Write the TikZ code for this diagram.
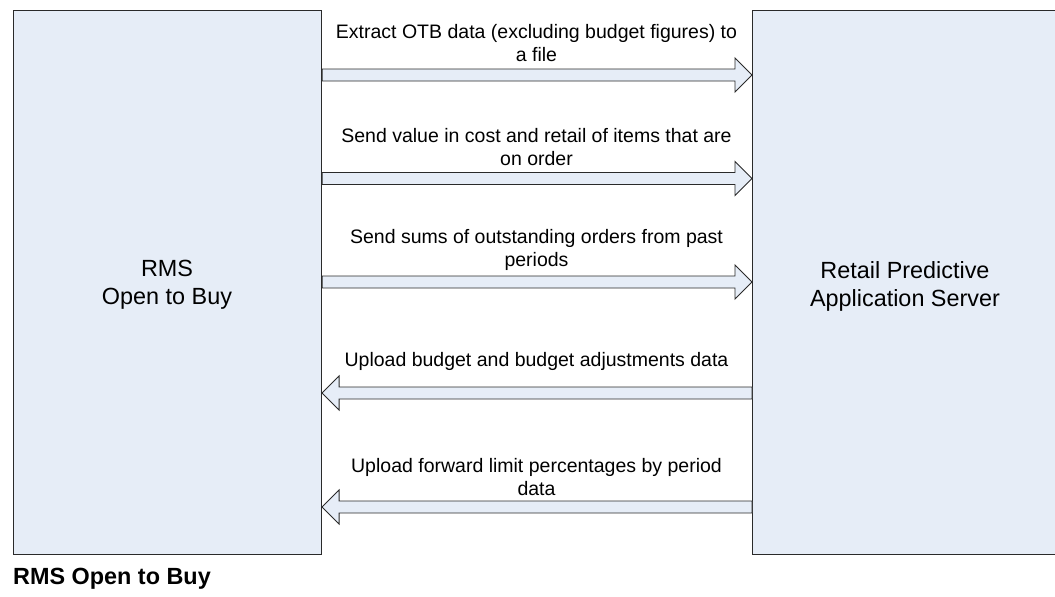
\documentclass[tikz,border=0pt]{standalone}
\usepackage{fontspec}
\setmainfont{Liberation Sans}
\usetikzlibrary{calc}
\definecolor{boxfill}{HTML}{E6EDF7}
\definecolor{edge}{HTML}{2A2A2A}
\tikzset{
  sysbox/.style={draw=edge, line width=1.1pt, fill=boxfill, rectangle, inner sep=0pt,
    align=center, font=\fontsize{23.4}{28}\selectfont, text=black},
  blockarrow/.style={draw=edge, line width=0.9pt, fill=boxfill, line join=miter},
  flowlabel/.style={align=center, inner sep=0pt, font=\fontsize{19.5}{23}\selectfont, text=black, anchor=base},
}
% #1 start coordinate, #2 tip coordinate, #3 direction (+1 right, -1 left)
\newcommand\flowarrow[3]{%
  \draw[blockarrow] ($(#1)+(0,6)$) -- ($(#2)+({-17*#3},6)$) -- ($(#2)+({-17*#3},17)$) -- (#2)
    -- ($(#2)+({-17*#3},-17)$) -- ($(#2)+({-17*#3},-6)$) -- ($(#1)+(0,-6)$) -- cycle;}
\begin{document}
\begin{tikzpicture}[x=1pt,y=-1pt]
\useasboundingbox (0,0) rectangle (1055,597);
\node[sysbox, minimum width=308pt, minimum height=544pt, anchor=north west] (rms) at (13,10) {};
\node[sysbox, minimum width=306pt, minimum height=544pt, anchor=north west] (rpas) at (752,10) {};
\node[sysbox, draw=none, fill=none, anchor=base] (rmst) at (167,304) {RMS\\Open to Buy};
\node[sysbox, draw=none, fill=none, anchor=base] (rpast) at (905,306) {Retail Predictive\\Application Server};
% arrow end points
\coordinate (s1) at (rms.east |- 0,75);   \coordinate (t1) at (rpas.west |- 0,75);
\coordinate (s2) at (rms.east |- 0,178.5);\coordinate (t2) at (rpas.west |- 0,178.5);
\coordinate (s3) at (rms.east |- 0,282);  \coordinate (t3) at (rpas.west |- 0,282);
\coordinate (s4) at (rpas.west |- 0,393); \coordinate (t4) at (rms.east |- 0,393);
\coordinate (s5) at (rpas.west |- 0,507); \coordinate (t5) at (rms.east |- 0,507);
\flowarrow{s1}{t1}{1}
\flowarrow{s2}{t2}{1}
\flowarrow{s3}{t3}{1}
\flowarrow{s4}{t4}{-1}
\flowarrow{s5}{t5}{-1}
\node[flowlabel] (l1) at (536.5,61) {Extract OTB data (excluding budget figures) to\\a file};
\node[flowlabel] (l2) at (536.5,165) {Send value in cost and retail of items that are\\on order};
\node[flowlabel] (l3) at (536.5,266.7) {Send sums of outstanding orders from past\\periods};
\node[flowlabel] (l4) at (536.5,366.7) {Upload budget and budget adjustments data};
\node[flowlabel] (l5) at (536.5,495) {Upload forward limit percentages by period\\data};
\node[anchor=base west, inner sep=0pt, font=\bfseries\fontsize{23.4}{28}\selectfont] (cap) at (13,584) {RMS Open to Buy};
\end{tikzpicture}
\end{document}
